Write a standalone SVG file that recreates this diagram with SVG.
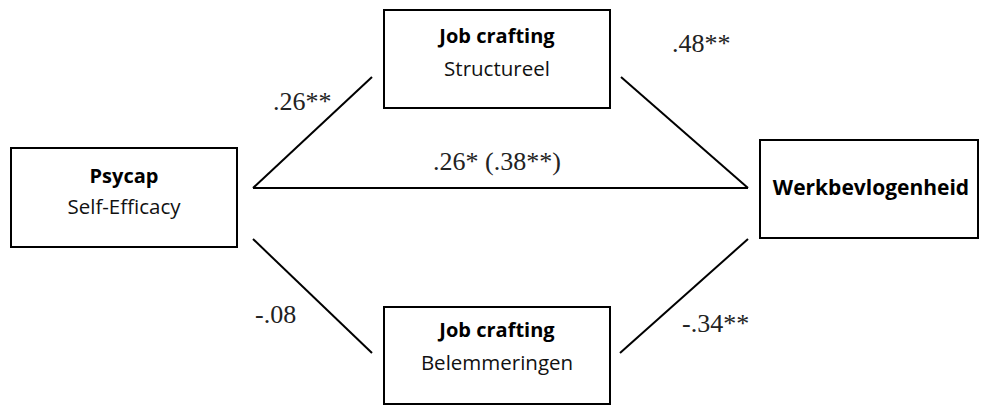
<svg xmlns="http://www.w3.org/2000/svg" width="984" height="405" viewBox="0 0 984 405">
<style>
.box{fill:#fff;stroke:#000;stroke-width:2}
.b{font-family:"Open Sans","Liberation Sans",sans-serif;font-weight:bold;font-size:20px;fill:#000;text-anchor:middle}
.n{font-family:"Open Sans","Liberation Sans",sans-serif;font-size:20.5px;fill:#111;text-anchor:middle}
.c{stroke:#000;stroke-width:2;fill:none}
.l{font-family:"Liberation Serif","Times New Roman",serif;font-size:26px;fill:#222}
</style>
<rect width="984" height="405" fill="#fff"/>
<g id="psycap"><rect class="box" x="11" y="148" width="226" height="99"/><text class="b" x="124" y="183">Psycap</text><text class="n" x="124" y="214">Self-Efficacy</text></g>
<g id="structureel"><rect class="box" x="384" y="10" width="226" height="98"/><text class="b" x="497" y="43">Job crafting</text><text class="n" x="497" y="76">Structureel</text></g>
<g id="belemmeringen"><rect class="box" x="384" y="307" width="226" height="97"/><text class="b" x="497" y="337">Job crafting</text><text class="n" x="497" y="370">Belemmeringen</text></g>
<g id="werkbevlogenheid"><rect class="box" x="760" y="140" width="218" height="98"/><text class="b" x="871" y="195" style="font-size:21px">Werkbevlogenheid</text></g>
<g id="connectors">
<line class="c" x1="253" y1="188" x2="372" y2="77"/>
<line class="c" x1="253" y1="188" x2="748" y2="188"/>
<line class="c" x1="621" y1="77" x2="748" y2="188"/>
<line class="c" x1="253" y1="239" x2="372" y2="353"/>
<line class="c" x1="620" y1="353" x2="748" y2="239"/>
<text class="l" x="273" y="110">.26**</text>
<text class="l" x="433" y="170">.26* (.38**)</text>
<text class="l" x="672" y="52">.48**</text>
<text class="l" x="255" y="323">-.08</text>
<text class="l" x="682" y="332">-.34**</text>
</g>
</svg>
